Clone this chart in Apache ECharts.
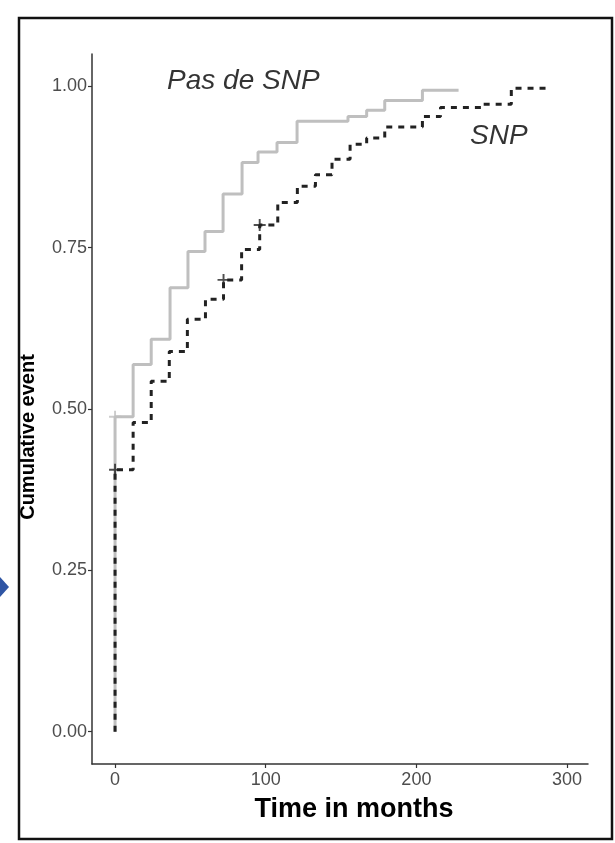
<!DOCTYPE html>
<html>
<head>
<meta charset="utf-8">
<script src="https://cdn.jsdelivr.net/npm/echarts@6/dist/echarts.min.js"></script>
<style>
html,body{margin:0;padding:0;background:#fff;}
#chart{width:615px;height:843px;}
</style>
</head>
<body>
<div id="chart"></div>
<script>
// ---- data ----
const xTicks = [0, 100, 200, 300];
const yTicks = [0, 0.25, 0.5, 0.75, 1];

// "Pas de SNP" cumulative event curve (grey)
const timesNoSNP  = [0, 0, 12, 24, 36.5, 48.4, 59.7, 71.7, 84.3, 94.9, 107.5, 120.8, 154.6, 167, 179, 204, 228];
const valuesNoSNP = [0, 0.488, 0.569, 0.608, 0.688, 0.744, 0.775, 0.833, 0.882, 0.898, 0.913, 0.946, 0.953, 0.963, 0.978, 0.994, 0.994];

// "SNP" cumulative event curve (black dashed)
const timesSNP  = [0, 0, 12, 24, 36, 48, 60, 72, 84, 96, 108, 121, 133, 144, 156, 167, 179, 204, 216, 244, 263, 289];
const valuesSNP = [0, 0.406, 0.479, 0.543, 0.589, 0.639, 0.67, 0.70, 0.747, 0.785, 0.820, 0.845, 0.863, 0.887, 0.910, 0.920, 0.937, 0.953, 0.967, 0.972, 0.997, 0.997];

// censoring marks
const censorNoSNPt = [0];
const censorNoSNPv = [0.488];
const censorSNPt = [0, 72, 96];
const censorSNPv = [0.406, 0.70, 0.785];

// curve labels
const labelTexts = ['Pas de SNP', 'SNP'];
const labelT = [34.5, 235.6];
const labelV = [1.008, 0.922];

// ---- build ----
const zip = (a, b) => a.map((v, i) => [v, b[i]]);
const plus = 'path://M4.2,0 L5.8,0 L5.8,4.2 L10,4.2 L10,5.8 L5.8,5.8 L5.8,10 L4.2,10 L4.2,5.8 L0,5.8 L0,4.2 L4.2,4.2 Z';
const font = 'Liberation Sans, Arial, sans-serif';

const chart = echarts.init(document.getElementById('chart'), null, {renderer: 'canvas'});
chart.setOption({
  animation: false,
  backgroundColor: '#fff',
  grid: {left: 92, top: 54, right: 27, bottom: 79, containLabel: false},
  xAxis: {
    type: 'value', min: -15.3, max: 313.9,
    axisLine: {show: true, onZero: false, lineStyle: {color: '#333', width: 1.5}},
    axisTick: {show: true, customValues: xTicks, length: 4, lineStyle: {color: '#333', width: 1.2}},
    axisLabel: {customValues: xTicks, fontSize: 18, color: '#4d4d4d', margin: 7, fontFamily: font},
    splitLine: {show: false},
    name: 'Time in months', nameLocation: 'middle', nameGap: 32,
    nameTextStyle: {fontSize: 27, fontWeight: 'bold', color: '#000', fontFamily: font, padding: [0, 0, 0, 28]}
  },
  yAxis: {
    type: 'value', min: -0.05, max: 1.05,
    axisLine: {show: true, onZero: false, lineStyle: {color: '#333', width: 1.5}},
    axisTick: {show: true, customValues: yTicks, length: 4, lineStyle: {color: '#333', width: 1.2}},
    axisLabel: {customValues: yTicks, fontSize: 18, color: '#4d4d4d', margin: 5,
      formatter: v => Number(v).toFixed(2), fontFamily: font},
    splitLine: {show: false},
    name: 'Cumulative event', nameLocation: 'middle', nameRotate: 90, nameGap: 54,
    nameTextStyle: {fontSize: 20, fontWeight: 'bold', color: '#000', fontFamily: font, padding: [0, 56, 0, 0]}
  },
  series: [
    {
      type: 'line', step: 'end', data: zip(timesNoSNP, valuesNoSNP), symbol: 'none', z: 2,
      lineStyle: {color: '#bfbfbf', width: 3}
    },
    {
      type: 'scatter', data: zip(censorNoSNPt, censorNoSNPv), symbol: plus, symbolSize: 12, z: 3,
      itemStyle: {color: '#bfbfbf'}
    },
    {
      type: 'line', step: 'end', data: zip(timesSNP, valuesSNP), symbol: 'none', z: 4,
      lineStyle: {color: '#222', width: 3, type: [6, 6]}
    },
    {
      type: 'scatter', data: zip(censorSNPt, censorSNPv), symbol: plus, symbolSize: 12, z: 5,
      itemStyle: {color: '#222'}
    },
    {
      type: 'scatter', data: labelT.map((t, i) => ({value: [t, labelV[i]], name: labelTexts[i]})),
      symbolSize: 0, z: 6, silent: true,
      label: {show: true, position: 'right', distance: 0, formatter: p => p.name,
        fontSize: 28, fontStyle: 'italic', color: '#000', fontFamily: font}
    }
  ],
  graphic: [
    {type: 'rect', shape: {x: 19, y: 18, width: 593, height: 821},
      style: {fill: 'none', stroke: '#111', lineWidth: 2.5}, z: 100},
    {type: 'polygon', shape: {points: [[0, 577], [9, 587], [0, 597]]},
      style: {fill: '#2f55a4'}, z: 100}
  ]
});
</script>
</body>
</html>
